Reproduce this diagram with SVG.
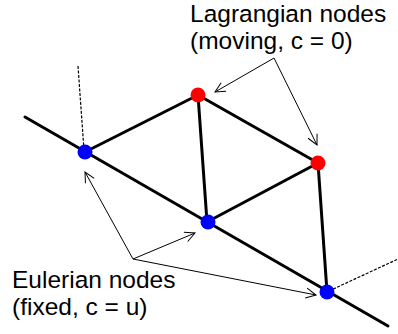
<svg xmlns="http://www.w3.org/2000/svg" width="398" height="334" viewBox="0 0 398 334">
<defs>
<marker id="arr" markerWidth="12" markerHeight="12" refX="11" refY="6" orient="auto" markerUnits="userSpaceOnUse">
<path d="M1,1 L11,6 L1,11" fill="none" stroke="#000" stroke-width="1"/>
</marker>
</defs>
<style>
.edge{stroke:#000;stroke-width:3;fill:none;stroke-linecap:round}
.dash{stroke:#000;stroke-width:1.2;stroke-dasharray:3,1.5;fill:none}
.ptr{stroke:#000;stroke-width:1;fill:none;marker-end:url(#arr)}
.lbl{font-family:"Liberation Sans",Arial,sans-serif;font-size:24.5px;fill:#000}
.red{fill:#ff0000}
.blue{fill:#0000ff}
</style>
<g id="connectors">
<line class="edge" x1="25" y1="117" x2="388" y2="326"/>
<line class="dash" x1="78" y1="66" x2="84" y2="150"/>
<line class="dash" x1="329" y1="291" x2="398" y2="259"/>
<line class="edge" x1="85" y1="152" x2="198" y2="95"/>
<line class="edge" x1="198" y1="95" x2="318" y2="163"/>
<line class="edge" x1="198" y1="95" x2="207" y2="222"/>
<line class="edge" x1="207" y1="222" x2="318" y2="163"/>
<line class="edge" x1="318" y1="163" x2="327" y2="292"/>
<line class="ptr" x1="274" y1="58" x2="215" y2="92"/>
<line class="ptr" x1="274" y1="58" x2="317" y2="145"/>
<line class="ptr" x1="133" y1="259" x2="85" y2="172"/>
<line class="ptr" x1="133" y1="259" x2="195" y2="233"/>
<line class="ptr" x1="133" y1="259" x2="316" y2="295"/>
</g>
<g id="n1"><circle class="blue" cx="85" cy="152" r="7.5"/></g>
<g id="n2"><circle class="red" cx="198" cy="95" r="7.5"/></g>
<g id="n3"><circle class="red" cx="318" cy="163" r="7.5"/></g>
<g id="n4"><circle class="blue" cx="208" cy="222" r="7.5"/></g>
<g id="n5"><circle class="blue" cx="327" cy="292" r="7.5"/></g>
<g id="lagr-label">
<text class="lbl" x="190" y="22">Lagrangian nodes</text>
<text class="lbl" x="190" y="49">(moving, c = 0)</text>
</g>
<g id="euler-label">
<text class="lbl" x="12" y="288">Eulerian nodes</text>
<text class="lbl" x="12" y="315">(fixed, c = u)</text>
</g>
</svg>
